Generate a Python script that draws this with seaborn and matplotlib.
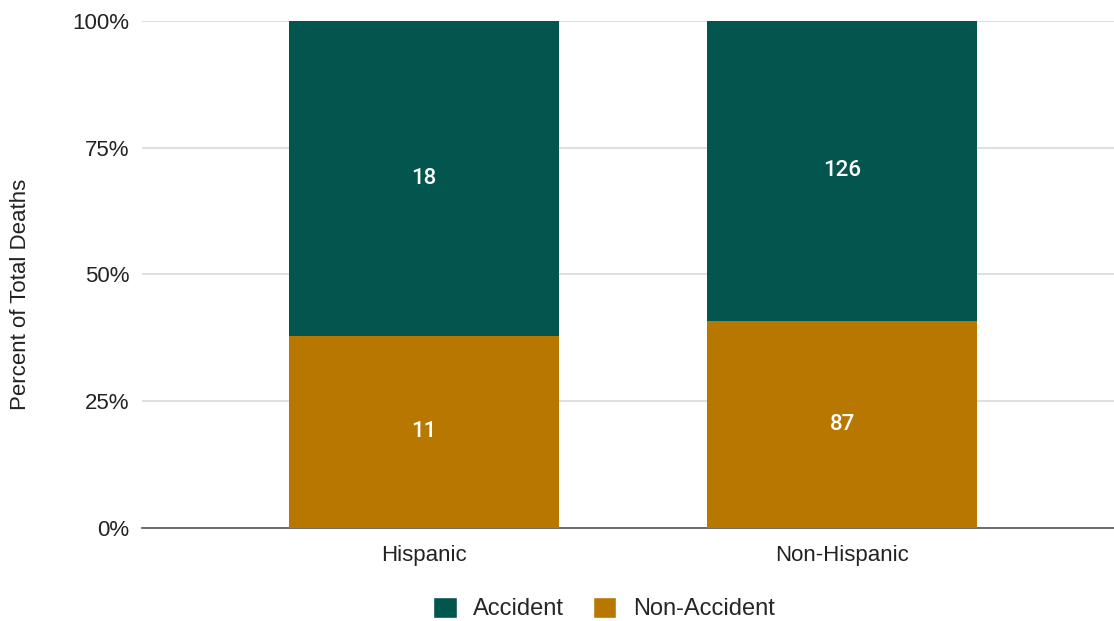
import numpy as np
import pandas as pd
import matplotlib
matplotlib.use('Agg')
import matplotlib.pyplot as plt
from matplotlib.patches import Patch
import seaborn as sns

# Data
groups = ['Hispanic', 'Non-Hispanic']
accident = [18, 126]
non_accident = [11, 87]
colors = {'Accident': '#02564e', 'Non-Accident': '#b87800'}

df = pd.DataFrame({'group': groups, 'Accident': accident, 'Non-Accident': non_accident})
df['total'] = df['Accident'] + df['Non-Accident']
df['pct_non'] = df['Non-Accident'] / df['total'] * 100
df['pct_all'] = 100.0

sns.set_theme(style='white')
plt.rcParams['font.family'] = ['Liberation Sans', 'DejaVu Sans']

fig = plt.figure(figsize=(11.14, 6.21), dpi=100)
ax = fig.add_axes([0.1275, 0.15, 0.8725, 0.816])

# full bar in accident colour, non-accident share drawn over the bottom
sns.barplot(data=df, x='group', y='pct_all', color=colors['Accident'], width=0.646,
            ax=ax, zorder=2, saturation=1, linewidth=0)
sns.barplot(data=df, x='group', y='pct_non', color=colors['Non-Accident'], width=0.646,
            ax=ax, zorder=3, saturation=1, linewidth=0)

# segment labels
lbl = dict(ha='center', va='center', color='white', fontsize=16,
           family=['Roboto', 'DejaVu Sans'], fontweight='medium', zorder=4)
for i, row in df.iterrows():
    ax.text(i, row['pct_non'] / 2, str(row['Non-Accident']), **lbl)
    ax.text(i, (row['pct_non'] + 100) / 2, str(row['Accident']), **lbl)

ax.set_xlim(-0.675, 1.65)
ax.set_ylim(0, 100)
ax.set_yticks([0, 25, 50, 75, 100])
ax.set_yticklabels(['0%', '25%', '50%', '75%', '100%'])
ax.yaxis.grid(True, color='#d9d9d9', linewidth=1.2, zorder=0)
ax.set_axisbelow(True)
for s in ['left', 'right', 'top']:
    ax.spines[s].set_visible(False)
ax.spines['bottom'].set_color('#555555')
ax.spines['bottom'].set_linewidth(1.2)
ax.tick_params(axis='both', length=0, labelsize=16, colors='#222222')
ax.tick_params(axis='y', pad=9)
ax.tick_params(axis='x', pad=12)
ax.set_xlabel('')
ax.set_ylabel('Percent of Total Deaths', fontsize=16, color='#222222')
ax.yaxis.set_label_coords(-0.114, 0.46)

handles = [Patch(facecolor=colors[k], label=k) for k in ['Accident', 'Non-Accident']]
fig.legend(handles=handles, loc='lower center', ncol=2, frameon=False, fontsize=17,
           bbox_to_anchor=(0.542, -0.033), handlelength=1.0, handleheight=1.0,
           columnspacing=1.2, handletextpad=0.7)

fig.savefig('out.png', dpi=100)
